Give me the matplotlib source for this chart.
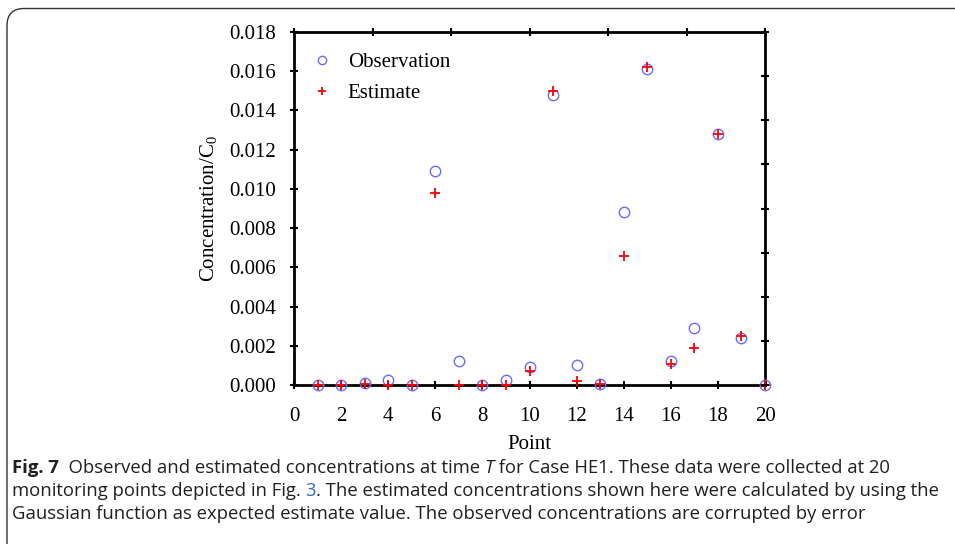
import matplotlib
matplotlib.use("Agg")
import matplotlib.pyplot as plt
from matplotlib.patches import FancyBboxPatch

points = list(range(1, 21))
observation = [0.0, 0.0, 0.0001, 0.00025, 0.0, 0.0109, 0.0012, 0.0, 0.00025, 0.0009,
               0.0148, 0.001, 0.00003, 0.0088, 0.0161, 0.0012, 0.0029, 0.0128, 0.0024, 0.0]
estimate = [0.0, 0.0, 0.00003, 0.0, 0.0, 0.0098, 0.0, 0.0, 0.0, 0.0007,
            0.0150, 0.0002, 0.00005, 0.0066, 0.0162, 0.00105, 0.0019, 0.0128, 0.0025, 0.0]
xticks = list(range(0, 21, 2))
yticks = [0.000, 0.002, 0.004, 0.006, 0.008, 0.010, 0.012, 0.014, 0.016, 0.018]

plt.rcParams["mathtext.fontset"] = "custom"
plt.rcParams["mathtext.rm"] = "Liberation Serif"
plt.rcParams["mathtext.it"] = "Liberation Serif:italic"
serif = ["Liberation Serif", "DejaVu Serif"]
fs = 15
fig = plt.figure(figsize=(9.55, 5.44), dpi=100)

# caption frame
frame = FancyBboxPatch((7 / 955, -0.1), 1.2, 1.1 - 8.5 / 544,
                       boxstyle="round,pad=0,rounding_size=0.018",
                       transform=fig.transFigure, fill=False,
                       edgecolor="#333333", linewidth=1.0, mutation_aspect=955 / 544)
fig.patches.append(frame)

pos = [294 / 955, (544 - 385) / 544, (765 - 294) / 955, (385 - 32) / 544]
ax = fig.add_axes(pos)
ax.plot(points, observation, linestyle="none", marker="o", markersize=7.5,
        markerfacecolor="none", markeredgecolor="#6b6bff", markeredgewidth=1.0,
        label="Observation", clip_on=False, zorder=3)
ax.plot(points, estimate, linestyle="none", marker="+", markersize=6.5,
        color="#ff0000", markeredgewidth=1.3, label="Estimate", clip_on=False, zorder=4)
ax.set_xlim(0, 20)
ax.set_ylim(0, 0.018)
ax.set_xticks(xticks)
ax.set_yticks(yticks)
ax.set_xticklabels([str(t) for t in xticks], family=serif, fontsize=fs)
ax.set_yticklabels([f"{t:.3f}" for t in yticks], family=serif, fontsize=fs)
ax.tick_params(direction="inout", length=6, width=1.5, colors="black")
ax.tick_params(axis="y", pad=10)
ax.tick_params(axis="x", pad=13)
for s in ax.spines.values():
    s.set_linewidth(2.0)
ax.set_xlabel("Point", family=serif, fontsize=fs, labelpad=6)
ax.set_ylabel("Concentration/C$_0$", family=serif, fontsize=fs, labelpad=7)
ax.legend(loc="upper left", frameon=False, prop={"family": serif, "size": fs},
          handlelength=1.4, handletextpad=0.55, borderaxespad=0.0, labelspacing=0.55,
          markerscale=0.8, bbox_to_anchor=(0.01, 0.965))

# secondary ticks on top/right
ax2 = fig.add_axes(pos, frameon=False)
ax2.set_xlim(0, 6)
ax2.set_ylim(0, 8)
ax2.set_xticks(range(7))
ax2.set_yticks(range(9))
ax2.tick_params(direction="inout", length=6, width=1.5, labelbottom=False, labelleft=False,
                bottom=False, left=False, top=True, right=True)
ax2.patch.set_visible(False)

# caption
cap_font = ["Open Sans", "DejaVu Sans"]
cfs = 13.3
col = "#231f20"
lines = [
    [("Fig. 7", {"weight": "bold"}), ("  Observed and estimated concentrations at time ", {}),
     ("T", {"style": "italic"}), (" for Case HE1. These data were collected at 20", {})],
    [("monitoring points depicted in Fig. ", {}), ("3", {"color": "#2a6ebb"}),
     (". The estimated concentrations shown here were calculated by using the", {})],
    [("Gaussian function as expected estimate value. The observed concentrations are corrupted by error", {})],
]
ys = [544 - 473, 544 - 496, 544 - 519]
for line, yb in zip(lines, ys):
    last = None
    for txt, kw in line:
        props = dict(family=cap_font, fontsize=cfs, color=col)
        props.update(kw)
        if last is None:
            last = fig.text(12 / 955, yb / 544, txt, ha="left", va="baseline", **props)
        else:
            last = ax.annotate(txt, xy=(1, 0), xycoords=last, va="bottom", ha="left",
                               annotation_clip=False, **props)

fig.savefig("out.png", dpi=100)
